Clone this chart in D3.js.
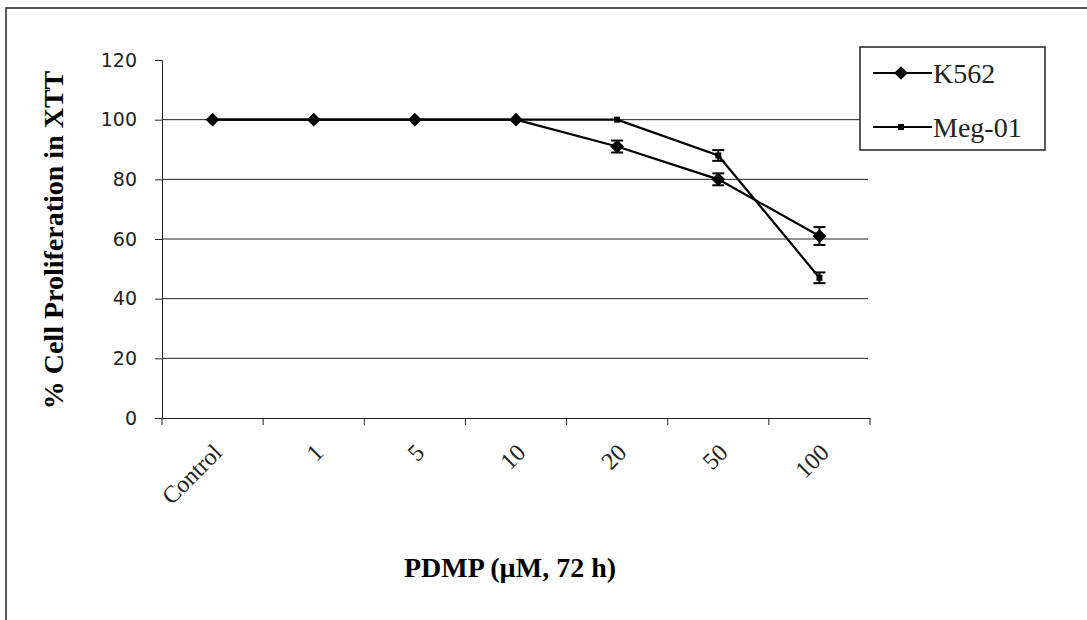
<!DOCTYPE html>
<html><head><meta charset="utf-8">
<script src="https://cdn.jsdelivr.net/npm/d3@7"></script>
<style>body{margin:0;background:#fff}svg{display:block}</style>
</head><body><svg id="c" width="1087" height="620"></svg>
<script>
const categories = ["Control","1","5","10","20","50","100"];
const k562 = [100,100,100,100,91,80,61];
const k562Err = [0,0,0,0,2,2,3];
const meg01 = [100,100,100,100,100,88,47];
const meg01Err = [0,0,0,0,0,1.8,1.8];
const yTicks = [0,20,40,60,80,100,120];

const svg = d3.select("#c");
svg.append("rect").attr("x",6).attr("y",8).attr("width",1200).attr("height",700)
  .attr("fill","none").attr("stroke","#222").attr("stroke-width",1.5);

const L=162,R=870,T=60,B=418;
const x = d3.scaleBand().domain(categories).range([L,R]);
const y = d3.scaleLinear().domain([0,120]).range([B,T]);

// gridlines
svg.append("g").selectAll("line").data(yTicks.filter(v=>v>0&&v<120)).join("line")
  .attr("x1",L).attr("x2",R-2).attr("y1",d=>y(d)).attr("y2",d=>y(d))
  .attr("stroke","#222").attr("stroke-width",1);

// y axis
const ya = svg.append("g").attr("transform",`translate(${L},0)`)
  .call(d3.axisLeft(y).tickValues(yTicks).tickSize(7).tickPadding(18));
ya.selectAll("path,line").attr("stroke","#222");
ya.selectAll("text").attr("font-family","'DejaVu Sans', Verdana, sans-serif").attr("font-size",19).attr("fill","#222");

// x axis
const xa = svg.append("g").attr("transform",`translate(0,${B})`)
  .call(d3.axisBottom(x).tickSize(0).tickFormat(""));
xa.selectAll("path").attr("stroke","#222");
svg.append("g").selectAll("line").data(categories.concat(["_end"])).join("line")
  .attr("x1",(d,i)=>i<categories.length?x(d):R).attr("x2",(d,i)=>i<categories.length?x(d):R)
  .attr("y1",B).attr("y2",B+7).attr("stroke","#222");
svg.append("g").selectAll("text").data(categories).join("text")
  .attr("transform",d=>`translate(${x(d)+x.bandwidth()/2+5},${B+30}) rotate(-45)`)
  .attr("text-anchor","end").attr("dy","0.35em")
  .attr("font-family","'Liberation Serif','Times New Roman',serif").attr("font-size",24).attr("fill","#222")
  .text(d=>d);

// axis titles
svg.append("text").attr("transform",`translate(63,240) rotate(-90)`).attr("text-anchor","middle")
  .attr("font-family","'Liberation Serif','Times New Roman',serif").attr("font-weight","bold").attr("font-size",28)
  .text("% Cell Proliferation in XTT");
svg.append("text").attr("x",510).attr("y",577).attr("text-anchor","middle")
  .attr("font-family","'Liberation Serif','Times New Roman',serif").attr("font-weight","bold").attr("font-size",28)
  .text("PDMP (µM, 72 h)");

const cx = d=>x(d)+x.bandwidth()/2;
function series(vals, errs){
  const pts = categories.map((c,i)=>({c, v:vals[i], e:errs[i]}));
  svg.append("path").datum(pts).attr("fill","none").attr("stroke","#000").attr("stroke-width",2.2)
    .attr("d", d3.line().x(d=>cx(d.c)).y(d=>y(d.v)));
  const g = svg.append("g");
  pts.filter(p=>p.e>0).forEach(p=>{
    const x0=cx(p.c), y1=y(p.v+p.e), y2=y(p.v-p.e);
    g.append("line").attr("x1",x0).attr("x2",x0).attr("y1",y1).attr("y2",y2).attr("stroke","#000").attr("stroke-width",2);
    [y1,y2].forEach(yy=>g.append("line").attr("x1",x0-6).attr("x2",x0+6).attr("y1",yy).attr("y2",yy).attr("stroke","#000").attr("stroke-width",2));
  });
  return pts;
}
const kp = series(k562,k562Err);
const mp = series(meg01,meg01Err);
const diamond = d3.symbol().type(d3.symbolDiamond2).size(120);
svg.append("g").selectAll("path").data(kp).join("path")
  .attr("transform",d=>`translate(${cx(d.c)},${y(d.v)})`).attr("d",diamond).attr("fill","#000");
svg.append("g").selectAll("rect").data(mp.filter((d,i)=>i>=4)).join("rect")
  .attr("x",d=>cx(d.c)-3).attr("y",d=>y(d.v)-3).attr("width",6).attr("height",6).attr("fill","#000");

// legend
const lg = svg.append("g");
lg.append("rect").attr("x",860).attr("y",47).attr("width",185).attr("height",103)
  .attr("fill","#fff").attr("stroke","#222").attr("stroke-width",1.5);
const items=[{n:"K562",t:"d",y:73},{n:"Meg-01",t:"s",y:127}];
items.forEach(it=>{
  lg.append("line").attr("x1",873).attr("x2",932).attr("y1",it.y).attr("y2",it.y).attr("stroke","#000").attr("stroke-width",2.2);
  if(it.t==="d") lg.append("path").attr("transform",`translate(901,${it.y})`).attr("d",diamond).attr("fill","#000");
  else lg.append("rect").attr("x",898).attr("y",it.y-3).attr("width",6).attr("height",6).attr("fill","#000");
  lg.append("text").attr("x",933).attr("y",it.y).attr("dy","0.35em")
    .attr("font-family","'Liberation Serif','Times New Roman',serif").attr("font-size",28).attr("fill","#222").text(it.n);
});
</script></body></html>
